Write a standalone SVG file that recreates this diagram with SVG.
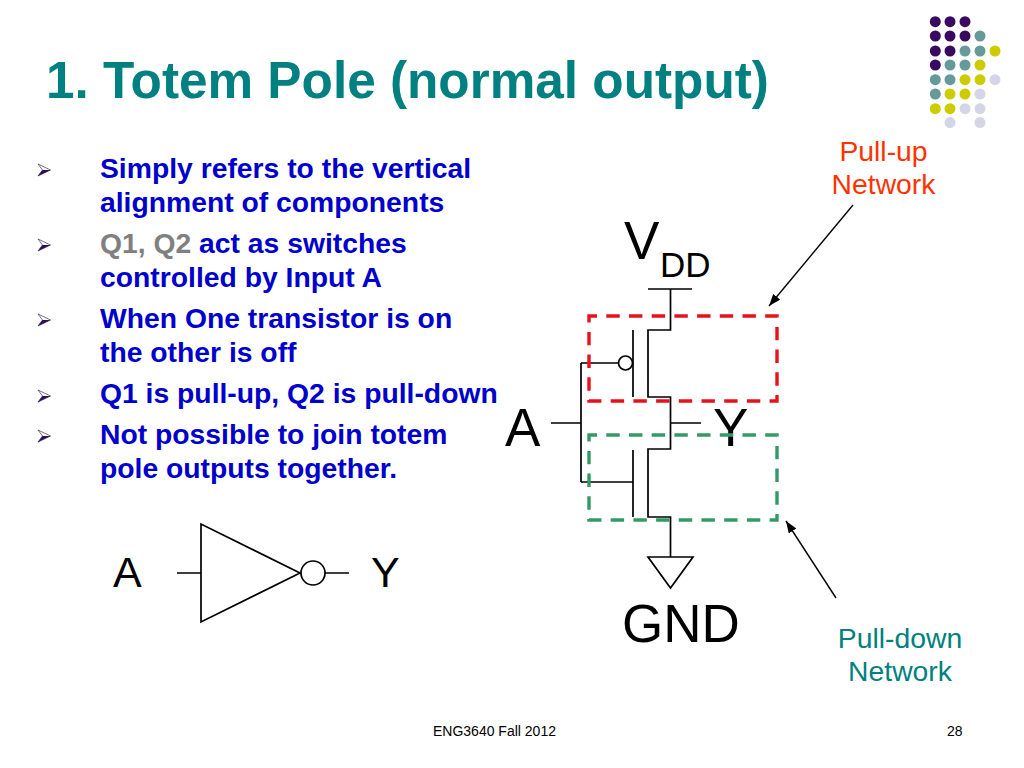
<svg xmlns="http://www.w3.org/2000/svg" width="1024" height="768" viewBox="0 0 1024 768">
<style>
text{font-family:"Liberation Sans",Arial,sans-serif;fill:#000}
.title{font-size:51.300px;font-weight:bold;fill:#008080}
.b{font-size:28.300px;font-weight:bold;fill:#0000cc}
.g{fill:#808080}
.big{font-size:53px}
.lab{font-size:28.300px}
.foot{font-size:14px}
.w{fill:none;stroke:#000;stroke-width:1.700}
.a{fill:none;stroke:#000;stroke-width:1.400}
.p{fill:#3a0a60}.t{fill:#669999}.y{fill:#cccc00}.l{fill:#d5d5e8}
.box{fill:none;stroke-width:3.400;stroke-dasharray:13.400 9.300;stroke-dashoffset:5.400}
</style>
<defs>
<marker id="ah" markerUnits="userSpaceOnUse" markerWidth="14" markerHeight="12" refX="12" refY="4.500" orient="auto"><path d="M0,0L12,4.500L0,9Z" fill="#000"/></marker>
<g id="bu"><path d="M0,0L12.500,6L0,12L4.500,6Z" fill="#fff" stroke="#3a2a60" stroke-width="0.700"/><path d="M4.500,6H12.500L0,12Z" fill="#2a0f55"/></g>
</defs>
<rect width="1024" height="768" fill="#fff"/>
<g id="title"><text class="title" x="46" y="98">1. Totem Pole (normal output)</text></g>
<g id="logo-dots">
<g class="p"><circle cx="935.300" cy="21.700" r="5.500"/><circle cx="950" cy="21.700" r="5.500"/><circle cx="965" cy="21.700" r="5.500"/><circle cx="935.300" cy="36" r="5.500"/><circle cx="950" cy="36" r="5.500"/><circle cx="965" cy="36" r="5.500"/><circle cx="935.300" cy="51" r="5.500"/><circle cx="950" cy="51" r="5.500"/><circle cx="935.300" cy="65" r="5.500"/></g>
<g class="t"><circle cx="980" cy="36" r="5.500"/><circle cx="965" cy="51" r="5.500"/><circle cx="980" cy="51" r="5.500"/><circle cx="950" cy="65" r="5.500"/><circle cx="965" cy="65" r="5.500"/><circle cx="935.300" cy="79.700" r="5.500"/><circle cx="950" cy="79.700" r="5.500"/><circle cx="935.300" cy="94" r="5.500"/></g>
<g class="y"><circle cx="995" cy="51" r="5.500"/><circle cx="980" cy="65" r="5.500"/><circle cx="965" cy="79.700" r="5.500"/><circle cx="980" cy="79.700" r="5.500"/><circle cx="950" cy="94" r="5.500"/><circle cx="965" cy="94" r="5.500"/><circle cx="935.300" cy="108.700" r="5.500"/><circle cx="950" cy="108.700" r="5.500"/></g>
<g class="l"><circle cx="995" cy="79.700" r="5.500"/><circle cx="980" cy="94" r="5.500"/><circle cx="965" cy="108.700" r="5.500"/><circle cx="980" cy="108.700" r="5.500"/><circle cx="950" cy="122.600" r="5.500"/><circle cx="980" cy="122.600" r="5.500"/></g>
</g>
<g id="bullets">
<use href="#bu" x="38" y="164"/><use href="#bu" x="38" y="239"/><use href="#bu" x="38" y="314"/><use href="#bu" x="38" y="390"/><use href="#bu" x="38" y="430"/>
<text class="b" x="100" y="178">Simply refers to the vertical</text>
<text class="b" x="100" y="212">alignment of components</text>
<text class="b" x="100" y="253"><tspan class="g">Q1, Q2</tspan> act as switches</text>
<text class="b" x="100" y="287">controlled by Input A</text>
<text class="b" x="100" y="328">When One transistor is on</text>
<text class="b" x="100" y="362">the other is off</text>
<text class="b" x="100" y="403">Q1 is pull-up, Q2 is pull-down</text>
<text class="b" x="100" y="444">Not possible to join totem</text>
<text class="b" x="100" y="478">pole outputs together.</text>
</g>
<g id="inverter">
<path class="w" d="M201,524V622L300,573ZM177,573H201M325,573H349"/>
<circle class="w" cx="313" cy="573" r="12"/>
<text style="font-size:43px" x="113" y="587">A</text>
<text style="font-size:43px" x="371" y="587">Y</text>
</g>
<g id="labels">
<text class="big" x="624" y="259">V</text><text style="font-size:35px" x="660" y="277">DD</text>
<text class="big" x="505" y="446">A</text>
<text class="big" x="713" y="446">Y</text>
<text class="big" x="622" y="642">GND</text>
</g>
<g id="totem-circuit">
<path class="w" d="M648,289H692M670.500,289V330H648V397H670.500V449H648V517H670.500V557M648,557H693L670.500,588ZM633,330V397M633,450V517M581,363V482M581,363H619M581,482H633M551,423H581M670.500,423H701"/>
<circle class="w" cx="625.500" cy="363" r="7"/>
</g>
<g id="pull-up-box"><rect class="box" x="589" y="316" width="188" height="85" stroke="#e8101c"/></g>
<g id="pull-down-box"><rect class="box" x="589" y="435" width="188" height="85" stroke="#339966"/></g>
<g id="connectors">
<path class="a" marker-end="url(#ah)" d="M853,205L769,306"/>
<path class="a" marker-end="url(#ah)" d="M836,598L786,521"/>
</g>
<g id="pull-up-label">
<text class="lab" style="fill:#ff3300" text-anchor="middle" x="883.500" y="161">Pull-up</text>
<text class="lab" style="fill:#ff3300" text-anchor="middle" x="883.500" y="194">Network</text>
</g>
<g id="pull-down-label">
<text class="lab" style="fill:#008080" text-anchor="middle" x="900" y="648">Pull-down</text>
<text class="lab" style="fill:#008080" text-anchor="middle" x="900" y="681">Network</text>
</g>
<g id="footer">
<text class="foot" x="433" y="736">ENG3640 Fall 2012</text>
<text class="foot" x="947" y="736">28</text>
</g>
</svg>
